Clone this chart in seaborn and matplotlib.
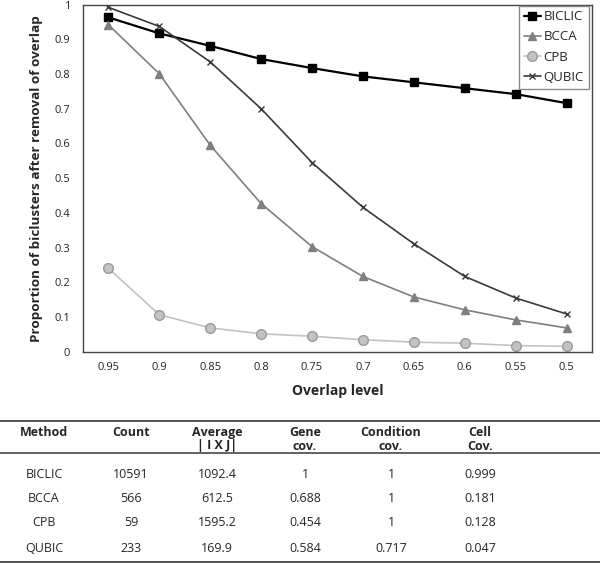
import pandas as pd
import seaborn as sns
import matplotlib.pyplot as plt

# values
overlap = [0.95, 0.9, 0.85, 0.8, 0.75, 0.7, 0.65, 0.6, 0.55, 0.5]
overlap_labels = ['0.95', '0.9', '0.85', '0.8', '0.75', '0.7', '0.65', '0.6', '0.55', '0.5']
biclic = [0.963, 0.917, 0.881, 0.843, 0.817, 0.793, 0.776, 0.759, 0.742, 0.716]
bcca = [0.942, 0.801, 0.595, 0.427, 0.303, 0.217, 0.158, 0.121, 0.092, 0.069]
cpb = [0.241, 0.107, 0.069, 0.052, 0.045, 0.035, 0.028, 0.025, 0.018, 0.016]
qubic = [0.992, 0.937, 0.835, 0.700, 0.545, 0.416, 0.311, 0.217, 0.155, 0.109]

y_ticks = [0, 0.1, 0.2, 0.3, 0.4, 0.5, 0.6, 0.7, 0.8, 0.9, 1]
y_labels = ['0', '0.1', '0.2', '0.3', '0.4', '0.5', '0.6', '0.7', '0.8', '0.9', '1']

# table below the chart
tbl_header = ['Method', 'Count', 'Average\n| I X J|', 'Gene\ncov.', 'Condition\ncov.', 'Cell\nCov.']
tbl_method = ['BICLIC', 'BCCA', 'CPB', 'QUBIC']
tbl_count = ['10591', '566', '59', '233']
tbl_avg = ['1092.4', '612.5', '1595.2', '169.9']
tbl_gene = ['1', '0.688', '0.454', '0.584']
tbl_cond = ['1', '1', '1', '0.717']
tbl_cell = ['0.999', '0.181', '0.128', '0.047']

sns.set_style('white')
plt.rcParams['font.family'] = ['Open Sans', 'DejaVu Sans']

df = pd.DataFrame({'overlap': overlap * 4,
                   'value': biclic + bcca + cpb + qubic,
                   'method': ['BICLIC'] * 10 + ['BCCA'] * 10 + ['CPB'] * 10 + ['QUBIC'] * 10})

styles = {
    'BICLIC': dict(color='black', marker='s', markersize=6, linewidth=1.6, mec='black', mfc='black'),
    'BCCA': dict(color='#7f7f7f', marker='^', markersize=6, linewidth=1.2, mec='#7f7f7f', mfc='#7f7f7f'),
    'CPB': dict(color='#c3c3c3', marker='o', markersize=7, linewidth=1.2, mec='#9a9a9a', mfc='#c3c3c3'),
    'QUBIC': dict(color='#3a3a3a', marker='x', markersize=5, linewidth=1.2, mec='#3a3a3a', mfc='#3a3a3a'),
}

fig = plt.figure(figsize=(6, 5.63), dpi=100)
ax = fig.add_axes([0.138, 0.375, 0.849, 0.617])

for m in ['BICLIC', 'BCCA', 'CPB', 'QUBIC']:
    st = styles[m]
    sns.lineplot(data=df[df['method'] == m], x='overlap', y='value', ax=ax, label=m,
                 color=st['color'], marker=st['marker'], markersize=st['markersize'],
                 linewidth=st['linewidth'], markeredgecolor=st['mec'], markerfacecolor=st['mfc'],
                 markeredgewidth=1)

ax.set_xlim(0.975, 0.475)
ax.set_ylim(0, 1)
ax.set_xticks(overlap)
ax.set_xticklabels(overlap_labels)
ax.set_yticks(y_ticks)
ax.set_yticklabels(y_labels)
ax.tick_params(axis='both', length=0, labelsize=8, colors='#222222')
ax.tick_params(axis='y', pad=9)
ax.tick_params(axis='x', pad=7)
ax.set_xlabel('Overlap level', fontsize=10, fontweight='bold', labelpad=8)
ax.set_ylabel('Proportion of biclusters after removal of overlap', fontsize=9.7, fontweight='bold', labelpad=8)
for s in ax.spines.values():
    s.set_color('#444444')
    s.set_linewidth(1)

leg = ax.legend(loc='upper right', bbox_to_anchor=(0.993, 0.997), borderaxespad=0,
                fancybox=False, edgecolor='#888888', framealpha=1, fontsize=9.5,
                handlelength=1.3, handletextpad=0.2, borderpad=0.35, labelspacing=0.55)

# table, drawn in its own axes with pixel-like coordinates
tax = fig.add_axes([0, 0, 1, 163 / 563])
tax.set_xlim(0, 600)
tax.set_ylim(563, 400)
tax.axis('off')

col_x = [44, 131, 217, 305, 391, 480]
row_y = [474, 499, 523, 549]
tax.plot([0, 600], [421, 421], color='#444444', linewidth=1.3, clip_on=False)
tax.plot([0, 600], [453, 453], color='#555555', linewidth=1.3, clip_on=False, zorder=5)
tax.plot([0, 600], [561.5, 561.5], color='#444444', linewidth=1.3, clip_on=False)

for x, h in zip(col_x, tbl_header):
    tax.text(x, 426, h, ha='center', va='top', fontsize=9,
             fontweight='bold', linespacing=1.05)

cols = [tbl_method, tbl_count, tbl_avg, tbl_gene, tbl_cond, tbl_cell]
for x, col in zip(col_x, cols):
    for y, v in zip(row_y, col):
        tax.text(x, y, v, ha='center', va='center', fontsize=9)

plt.savefig('out.png', dpi=100)
